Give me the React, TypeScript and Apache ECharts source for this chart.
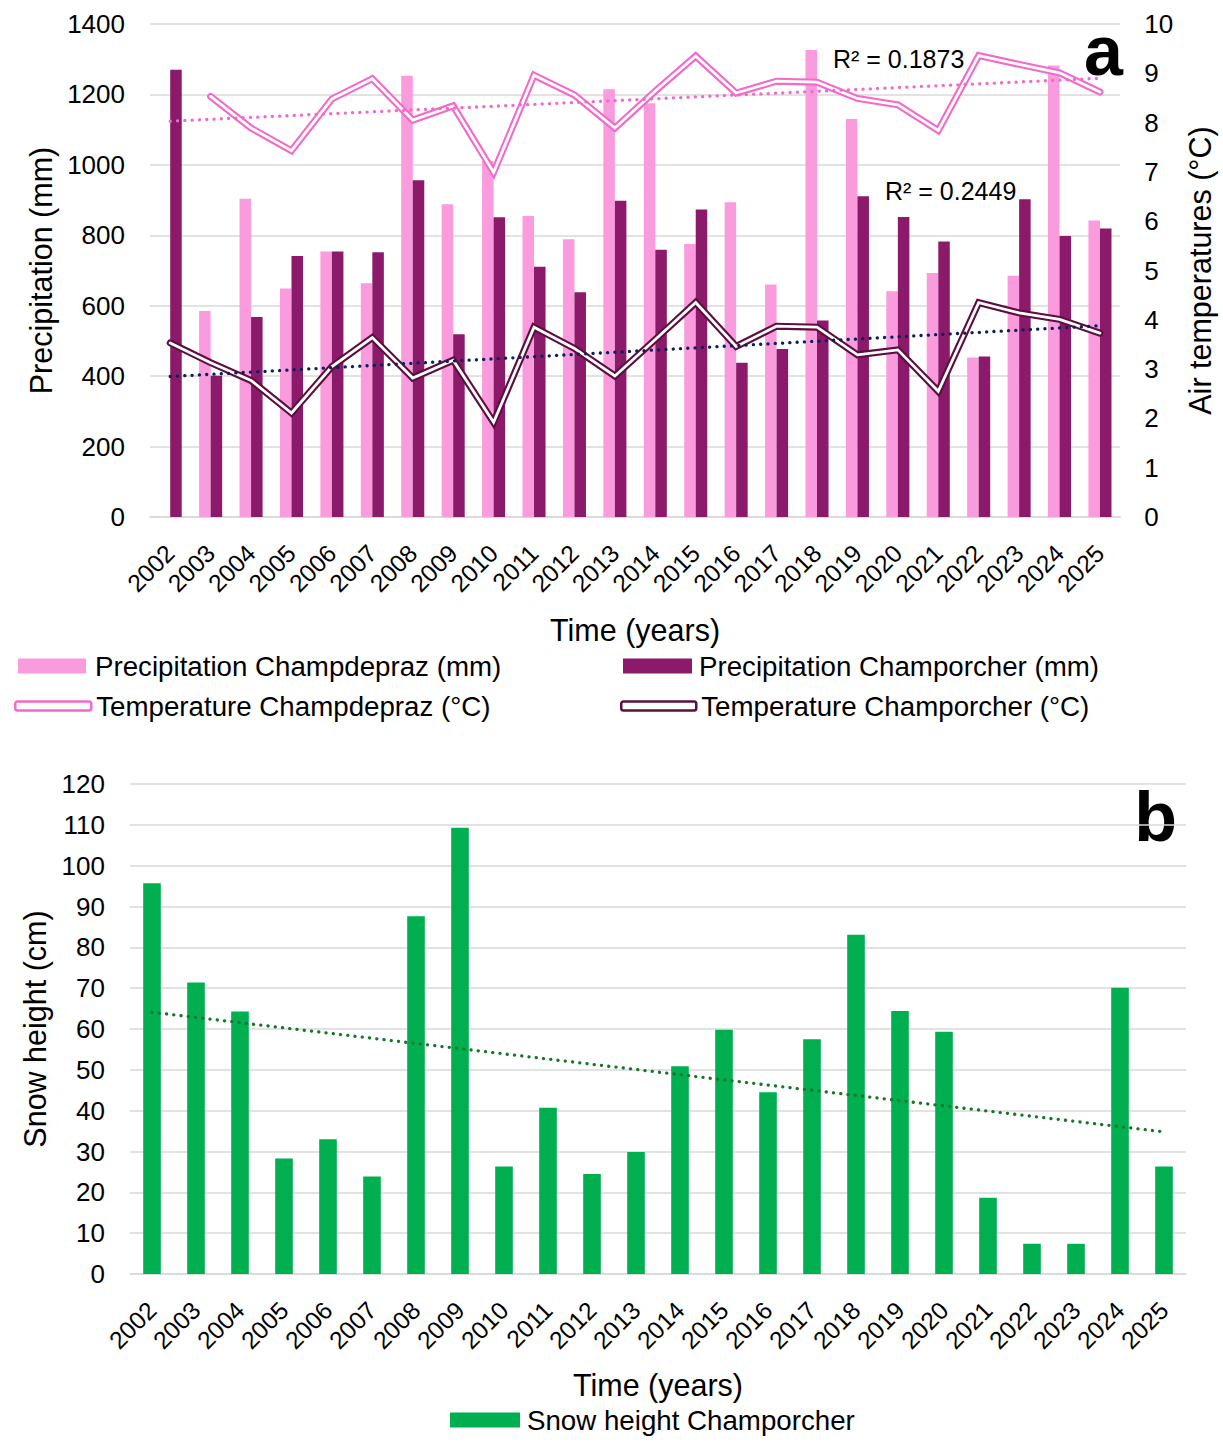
import { useEffect, useRef } from "react";
import * as echarts from "echarts";

const years = [
  "2002", "2003", "2004", "2005", "2006", "2007", "2008", "2009", "2010", "2011", "2012", "2013",
  "2014", "2015", "2016", "2017", "2018", "2019", "2020", "2021", "2022", "2023", "2024", "2025",
];

// panel a: precipitation (mm)
const precipChampdepraz = [
  null, 585, 904, 649, 754, 664, 1253, 888, 1012, 855, 789, 1215,
  1175, 775, 894, 660, 1326, 1130, 641, 693, 453, 685, 1282, 842,
];
const precipChamporcher = [
  1270, 401, 568, 741, 754, 752, 956, 519, 851, 711, 638, 898,
  759, 873, 438, 477, 558, 911, 852, 782, 456, 902, 798, 819,
];

// panel a: air temperature (°C)
const tempChampdepraz = [
  null, 8.53, 7.89, 7.43, 8.48, 8.89, 8.05, 8.34, 6.99, 8.96, 8.56, 7.89,
  8.64, 9.35, 8.6, 8.84, 8.82, 8.49, 8.36, 7.84, 9.36, 9.18, 9.01, 8.62,
];
const tempChamporcher = [
  3.53, 3.13, 2.77, 2.11, 3.05, 3.64, 2.82, 3.18, 1.92, 3.85, 3.42, 2.86,
  3.6, 4.35, 3.46, 3.87, 3.85, 3.29, 3.39, 2.55, 4.35, 4.14, 4.01, 3.73,
];

// linear trend end points (first and last year)
const trendChampdepraz = [8.03, 8.9];
const trendChamporcher = [2.85, 3.88];
const r2Labels = ["R² = 0.1873", "R² = 0.2449"];

// panel b: snow height (cm)
const snowChamporcher = [
  95.7, 71.4, 64.3, 28.3, 33.0, 23.9, 87.6, 109.3, 26.3, 40.7, 24.5, 29.9,
  50.9, 59.8, 44.5, 57.5, 83.1, 64.4, 59.3, 18.7, 7.4, 7.4, 70.1, 26.3,
];
const trendSnow = [64.1, 34.8];

const FONT = "'Liberation Sans', Arial, sans-serif";
const PINK_BAR = "#F99BDC";
const DARK_BAR = "#8C1A6A";
const PINK_LINE = "#F26ACA";
const DARK_LINE = "#5B0F3F";
const NAVY = "#0B1F5B";
const GREEN = "#00B050";
const GREEN_DOT = "#17762B";
const GRID = "#D9D9D9";

const trendData = (ends: number[]) => [
  [years[0], ends[0]],
  [years[years.length - 1], ends[1]],
];

export default function App() {
  const ref = useRef<HTMLDivElement | null>(null);

  useEffect(() => {
    document.body.style.margin = "0";
    if (!ref.current) return;
    const chart = echarts.init(ref.current, undefined, { renderer: "svg" });

    const tick = { fontFamily: FONT, fontSize: 26, color: "#000" };
    const title = { fontFamily: FONT, fontSize: 30.5, color: "#000" };
    const legendText = { fontFamily: FONT, fontSize: 27.7, color: "#000", lineHeight: 30 };
    const plain = (v: number) => String(v);
    const dotted = (color: string) => ({
      color,
      width: 3.3,
      type: [0.1, 7.2],
      cap: "round" as const,
    });
    const doubleOuter = (color: string) => ({ color, width: 7, join: "miter" as const, cap: "round" as const });
    const doubleInner = { color: "#fff", width: 2.8, join: "miter" as const, cap: "round" as const };

    const xAxisBase = {
      type: "category" as const,
      data: years,
      axisTick: { show: false },
      axisLine: { show: true, lineStyle: { color: GRID, width: 1.5 } },
      axisLabel: { ...tick, fontSize: 24.5, rotate: 45, interval: 0, margin: 32 },
      name: "Time (years)",
      nameLocation: "middle" as const,
      nameTextStyle: title,
    };

    chart.setOption({
      animation: false,
      backgroundColor: "#fff",
      grid: [
        { left: 150, right: 97, top: 24, height: 493 },
        { left: 130, right: 37, top: 784, height: 490 },
      ],
      xAxis: [
        { ...xAxisBase, gridIndex: 0, nameGap: 97 },
        { ...xAxisBase, gridIndex: 1, nameGap: 95 },
      ],
      yAxis: [
        {
          type: "value",
          gridIndex: 0,
          min: 0,
          max: 1400,
          interval: 200,
          axisLabel: { ...tick, margin: 25, formatter: plain },
          splitLine: { lineStyle: { color: GRID, width: 1.5 } },
          name: "Precipitation (mm)",
          nameLocation: "middle",
          nameRotate: 90,
          nameGap: 94,
          nameTextStyle: title,
        },
        {
          type: "value",
          gridIndex: 0,
          position: "right",
          min: 0,
          max: 10,
          interval: 1,
          axisLabel: { ...tick, margin: 24, formatter: plain },
          splitLine: { show: false },
          name: "Air temperatures (°C)",
          nameLocation: "middle",
          nameRotate: 90,
          nameGap: 55,
          nameTextStyle: title,
        },
        {
          type: "value",
          gridIndex: 1,
          min: 0,
          max: 120,
          interval: 10,
          axisLabel: { ...tick, margin: 25, formatter: plain },
          splitLine: { lineStyle: { color: GRID, width: 1.5 } },
          name: "Snow height (cm)",
          nameLocation: "middle",
          nameRotate: 90,
          nameGap: 78,
          nameTextStyle: title,
        },
      ],
      legend: [
        {
          left: 18, top: 651, padding: 0, itemWidth: 68, itemHeight: 15,
          textStyle: { ...legendText, padding: [0, 0, 0, 4] },
          data: [{ name: "Precipitation Champdepraz (mm)", icon: "rect" }],
        },
        {
          left: 623, top: 651, padding: 0, itemWidth: 69, itemHeight: 15,
          textStyle: { ...legendText, padding: [0, 0, 0, 2] },
          data: [{ name: "Precipitation Champorcher (mm)", icon: "rect" }],
        },
        {
          left: 14, top: 691, padding: 0, itemWidth: 76, itemHeight: 9,
          textStyle: legendText,
          data: [{
            name: "Temperature Champdepraz (°C)", icon: "roundRect",
            itemStyle: { color: "#fff", borderColor: PINK_LINE, borderWidth: 2.5 },
          }],
        },
        {
          left: 620, top: 691, padding: 0, itemWidth: 75, itemHeight: 9,
          textStyle: legendText,
          data: [{
            name: "Temperature Champorcher (°C)", icon: "roundRect",
            itemStyle: { color: "#fff", borderColor: DARK_LINE, borderWidth: 2.5 },
          }],
        },
        {
          left: 450, top: 1405, padding: 0, itemWidth: 70, itemHeight: 15,
          textStyle: { ...legendText, padding: [0, 0, 0, 2] },
          data: [{ name: "Snow height Champorcher", icon: "rect" }],
        },
      ],
      graphic: [
        { type: "text", x: 833, y: 59, style: { text: r2Labels[0], fontFamily: FONT, fontSize: 25, fill: "#000", verticalAlign: "middle" } },
        { type: "text", x: 885, y: 191, style: { text: r2Labels[1], fontFamily: FONT, fontSize: 25, fill: "#000", verticalAlign: "middle" } },
        { type: "text", x: 1123, y: 51, style: { text: "a", fontFamily: FONT, fontSize: 70, fontWeight: "bold", fill: "#000", align: "right", verticalAlign: "middle" } },
        { type: "text", x: 1177, y: 817, style: { text: "b", fontFamily: FONT, fontSize: 70, fontWeight: "bold", fill: "#000", align: "right", verticalAlign: "middle" } },
      ],
      series: [
        {
          name: "Precipitation Champdepraz (mm)", type: "bar", xAxisIndex: 0, yAxisIndex: 0,
          data: precipChampdepraz, itemStyle: { color: PINK_BAR }, barGap: "0%", barCategoryGap: "43%", z: 2,
        },
        {
          name: "Precipitation Champorcher (mm)", type: "bar", xAxisIndex: 0, yAxisIndex: 0,
          data: precipChamporcher, itemStyle: { color: DARK_BAR }, barGap: "0%", barCategoryGap: "43%", z: 2,
        },
        {
          name: "Temperature Champdepraz (°C)", type: "line", xAxisIndex: 0, yAxisIndex: 1,
          data: tempChampdepraz, symbol: "none", lineStyle: doubleOuter(PINK_LINE), itemStyle: { color: PINK_LINE }, z: 3,
        },
        {
          name: "Champdepraz inner", type: "line", xAxisIndex: 0, yAxisIndex: 1,
          data: tempChampdepraz, symbol: "none", lineStyle: doubleInner, z: 4, silent: true,
        },
        {
          name: "Temperature Champorcher (°C)", type: "line", xAxisIndex: 0, yAxisIndex: 1,
          data: tempChamporcher, symbol: "none", lineStyle: doubleOuter(DARK_LINE), itemStyle: { color: DARK_LINE }, z: 3,
        },
        {
          name: "Champorcher inner", type: "line", xAxisIndex: 0, yAxisIndex: 1,
          data: tempChamporcher, symbol: "none", lineStyle: doubleInner, z: 4, silent: true,
        },
        {
          name: "Trend Champdepraz", type: "line", xAxisIndex: 0, yAxisIndex: 1,
          data: trendData(trendChampdepraz), symbol: "none", lineStyle: dotted(PINK_LINE), z: 5, silent: true,
        },
        {
          name: "Trend Champorcher", type: "line", xAxisIndex: 0, yAxisIndex: 1,
          data: trendData(trendChamporcher), symbol: "none", lineStyle: dotted(NAVY), z: 5, silent: true,
        },
        {
          name: "Snow height Champorcher", type: "bar", xAxisIndex: 1, yAxisIndex: 2,
          data: snowChamporcher, itemStyle: { color: GREEN }, barCategoryGap: "60%", z: 2,
        },
        {
          name: "Trend snow", type: "line", xAxisIndex: 1, yAxisIndex: 2,
          data: trendData(trendSnow), symbol: "none", lineStyle: dotted(GREEN_DOT), z: 5, silent: true,
        },
      ],
    });

    return () => chart.dispose();
  }, []);

  return <div ref={ref} style={{ width: 1223, height: 1454 }} />;
}
